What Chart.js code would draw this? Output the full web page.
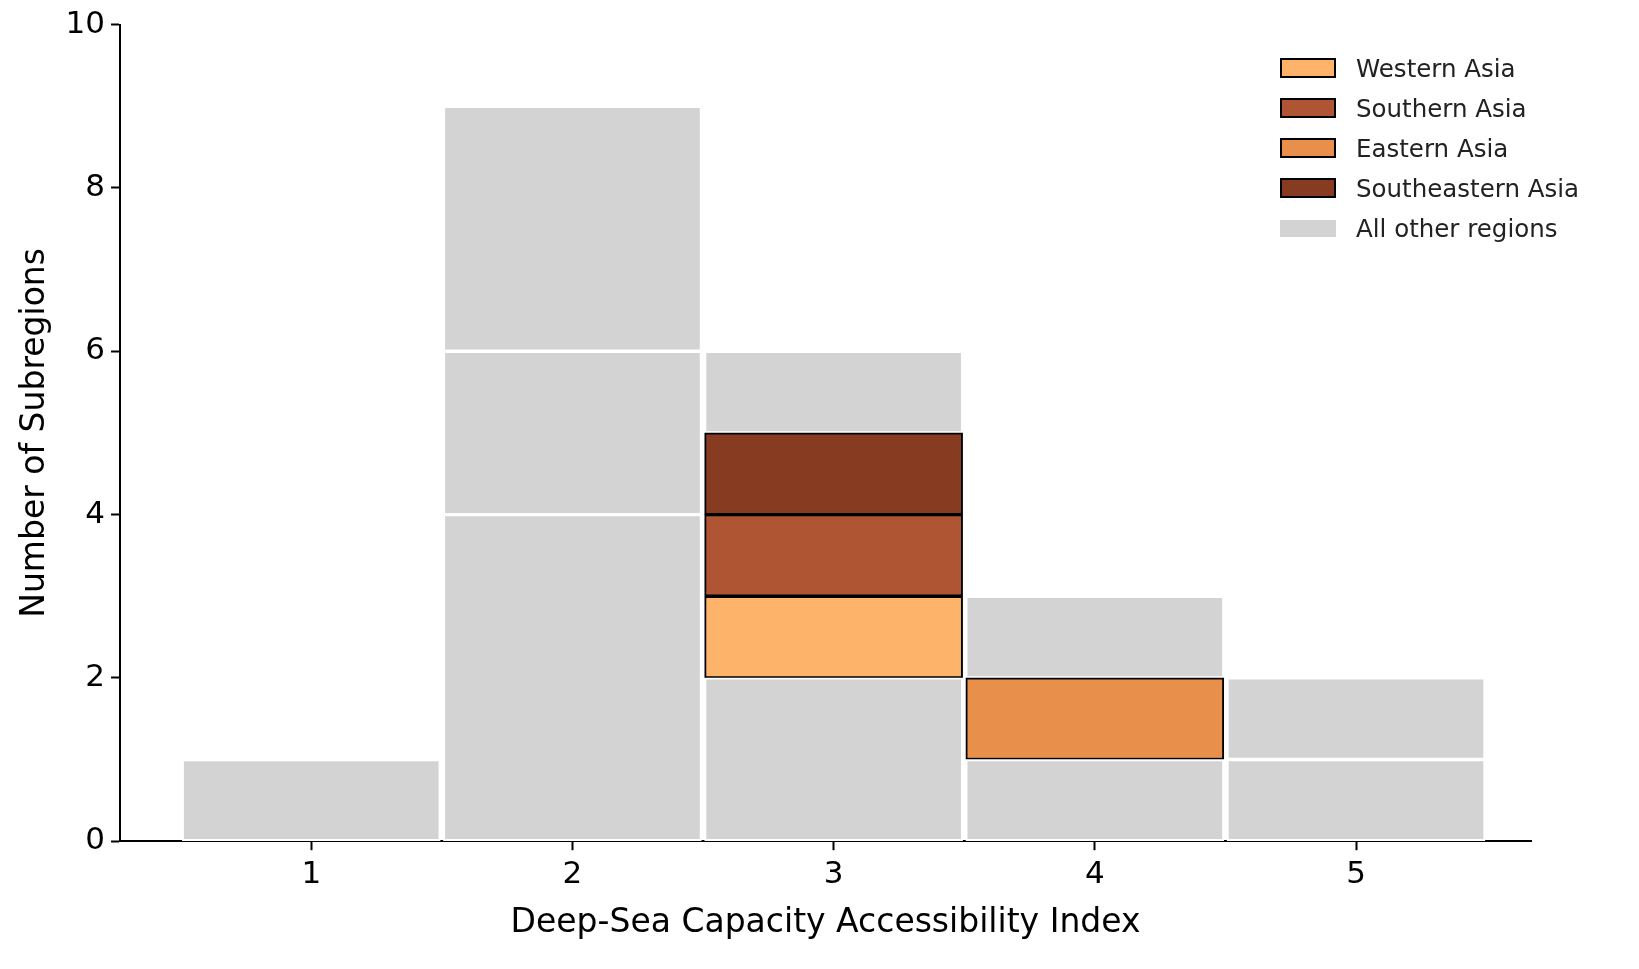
<!DOCTYPE html>
<html><head><meta charset="utf-8">
<script src="https://cdn.jsdelivr.net/npm/chart.js@4"></script>
<style>
body{margin:0;background:#fff;font-family:"DejaVu Sans",sans-serif}
#wrap{position:relative;width:1639px;height:969px}
#legend{position:absolute;left:1280px;top:48px;font-size:24.5px;color:#222}
#legend div{display:flex;align-items:center;height:40px}
#legend span.b{display:inline-block;width:56px;height:20px;margin-right:20px;box-sizing:border-box;border:2px solid #000}
</style></head><body>
<div id="wrap"><canvas id="c" width="1639" height="969"></canvas><div id="legend"></div></div>
<script>
const bins = [1,2,3,4,5];
const otherLow  = [1,4,2,1,1];
const otherMid  = [0,2,0,0,1];
const western   = [0,0,1,0,0];
const southern  = [0,0,1,0,0];
const eastern   = [0,0,0,1,0];
const southeast = [0,0,1,0,0];
const otherTop  = [0,3,1,1,0];
const yTicks = [0,2,4,6,8,10];

const GRAY='#D3D3D3';
function pts(a){ return bins.map((b,i)=>({x:b,y:a[i]||null})); }
function ds(label,a,color,edge){ return {label,data:pts(a),stack:'s',backgroundColor:color,borderColor:edge,borderWidth:2,borderSkipped:false,barThickness:258}; }

const series = [
  ds('other1',otherLow,GRAY,'#fff'),
  ds('other2',otherMid,GRAY,'#fff'),
  ds('Western Asia',western,'#FDB36A','#000'),
  ds('Southern Asia',southern,'#AF5533','#000'),
  ds('Eastern Asia',eastern,'#E8904B','#000'),
  ds('Southeastern Asia',southeast,'#873B20','#000'),
  ds('other3',otherTop,GRAY,'#fff'),
];

document.getElementById('legend').innerHTML = [
  ['Western Asia','#FDB36A'],['Southern Asia','#AF5533'],['Eastern Asia','#E8904B'],['Southeastern Asia','#873B20']
].map(([l,c])=>`<div><span class="b" style="background:${c}"></span>${l}</div>`).join('') +
`<div><span class="b" style="background:${GRAY};border:none;height:17px"></span>All other regions</div>`;

const tickFont={family:'DejaVu Sans',size:31};
new Chart(document.getElementById('c'),{
  type:'bar',
  data:{datasets:series},
  options:{
    responsive:false,animation:false,
    layout:{padding:{top:22,right:108,left:12,bottom:22}},
    plugins:{legend:{display:false},tooltip:{enabled:false}},
    scales:{
      x:{type:'linear',offset:false,min:0.268,max:5.67,
        afterBuildTicks:s=>{s.ticks=bins.map(v=>({value:v}));},
        ticks:{color:'#000',font:tickFont,padding:6},
        grid:{offset:false,drawOnChartArea:false,tickLength:9,color:'#000',tickWidth:2},
        border:{color:'#000',width:2},
        title:{display:true,text:'Deep-Sea Capacity Accessibility Index',color:'#000',font:{family:'DejaVu Sans',size:33}}},
      y:{stacked:true,min:0,max:10,
        afterBuildTicks:s=>{s.ticks=yTicks.map(v=>({value:v}));},
        ticks:{color:'#000',font:tickFont,padding:6},
        grid:{drawOnChartArea:false,tickLength:9,color:'#000',tickWidth:2},
        border:{color:'#000',width:2},
        title:{display:true,text:'Number of Subregions',color:'#000',font:{family:'DejaVu Sans',size:33}}}
    }
  }
});
</script></body></html>
